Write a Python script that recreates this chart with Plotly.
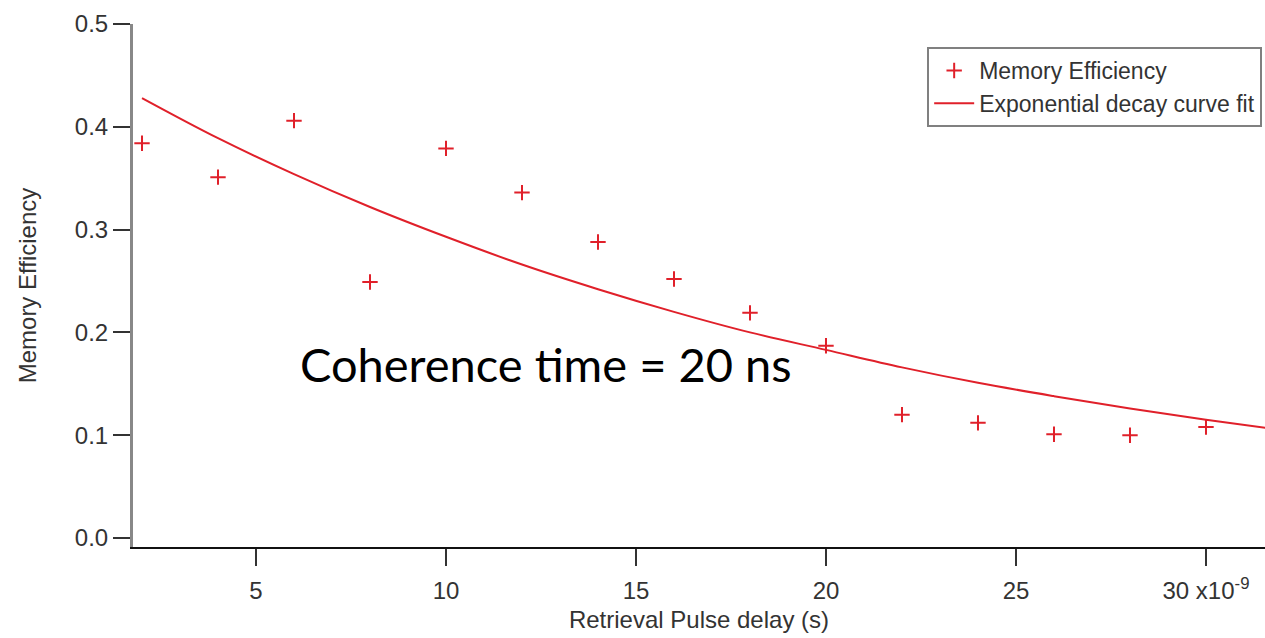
import plotly.graph_objects as go

# Measured memory efficiency vs. retrieval pulse delay (delay in ns)
delay_ns = [2, 4, 6, 8, 10, 12, 14, 16, 18, 20, 22, 24, 26, 28, 30]
efficiency = [0.384, 0.351, 0.406, 0.249, 0.379, 0.336, 0.288, 0.252,
              0.219, 0.187, 0.120, 0.112, 0.101, 0.100, 0.108]

# Exponential decay fit, sampled along the delay axis
fit_delay_ns = [2, 4, 6, 8, 10, 12, 14, 16, 18, 20, 22, 24, 26, 28, 30, 32]
fit_efficiency = [0.428, 0.389, 0.354, 0.322, 0.293, 0.266, 0.242, 0.220,
                  0.200, 0.183, 0.166, 0.151, 0.138, 0.126, 0.115, 0.105]

x_tick_vals = [5, 10, 15, 20, 25, 30]
x_tick_text = ["5", "10", "15", "20", "25", "30 x10<sup>-9</sup>"]
y_tick_vals = [0.0, 0.1, 0.2, 0.3, 0.4, 0.5]
y_tick_text = ["0.0", "0.1", "0.2", "0.3", "0.4", "0.5"]

RED = "#e0202a"
AXIS_FONT = dict(family="Liberation Sans, Arial, sans-serif", size=24, color="#333333")
LEGEND_FONT = dict(family="Liberation Sans, Arial, sans-serif", size=23, color="#333333")

fig = go.Figure()

fig.add_trace(go.Scatter(
    x=delay_ns, y=efficiency, mode="markers", name="Memory Efficiency",
    marker=dict(symbol="cross-thin", size=11, line=dict(color=RED, width=2), color=RED),
))

fig.add_trace(go.Scatter(
    x=fit_delay_ns, y=fit_efficiency, mode="lines", name="Exponential decay curve fit",
    line=dict(color=RED, width=2, shape="spline"),
))

fig.add_annotation(
    x=6.1, y=0.169, xref="x", yref="y", xanchor="left", yanchor="middle",
    text="Coherence time = 20 ns", showarrow=False,
    font=dict(family="Lato, Open Sans, sans-serif", size=47, color="#000000"),
)

fig.update_layout(
    width=1265, height=638,
    margin=dict(l=133, r=0, t=24, b=91),
    paper_bgcolor="white", plot_bgcolor="white",
    showlegend=True,
    legend=dict(
        x=0.9975, y=0.956, xanchor="right", yanchor="top",
        bgcolor="white", bordercolor="#808080", borderwidth=2,
        font=LEGEND_FONT, tracegroupgap=0, itemwidth=40,
    ),
    xaxis=dict(
        range=[1.763, 31.553], showgrid=False, zeroline=False,
        showline=True, linecolor="#111111", linewidth=2,
        ticks="outside", ticklen=17, tickwidth=2, tickcolor="#333333",
        tickvals=x_tick_vals, ticktext=x_tick_text, tickfont=AXIS_FONT,
        ticklabelstandoff=4,
        title=dict(text="Retrieval Pulse delay (s)", font=AXIS_FONT, standoff=8),
    ),
    yaxis=dict(
        range=[-0.00875, 0.5], showgrid=False, zeroline=False,
        showline=True, linecolor="#888888", linewidth=3,
        ticks="outside", ticklen=17, tickwidth=2, tickcolor="#333333",
        tickvals=y_tick_vals, ticktext=y_tick_text, tickfont=AXIS_FONT,
        title=dict(text="Memory Efficiency", font=AXIS_FONT, standoff=32),
    ),
)

fig.write_html("out.html")
